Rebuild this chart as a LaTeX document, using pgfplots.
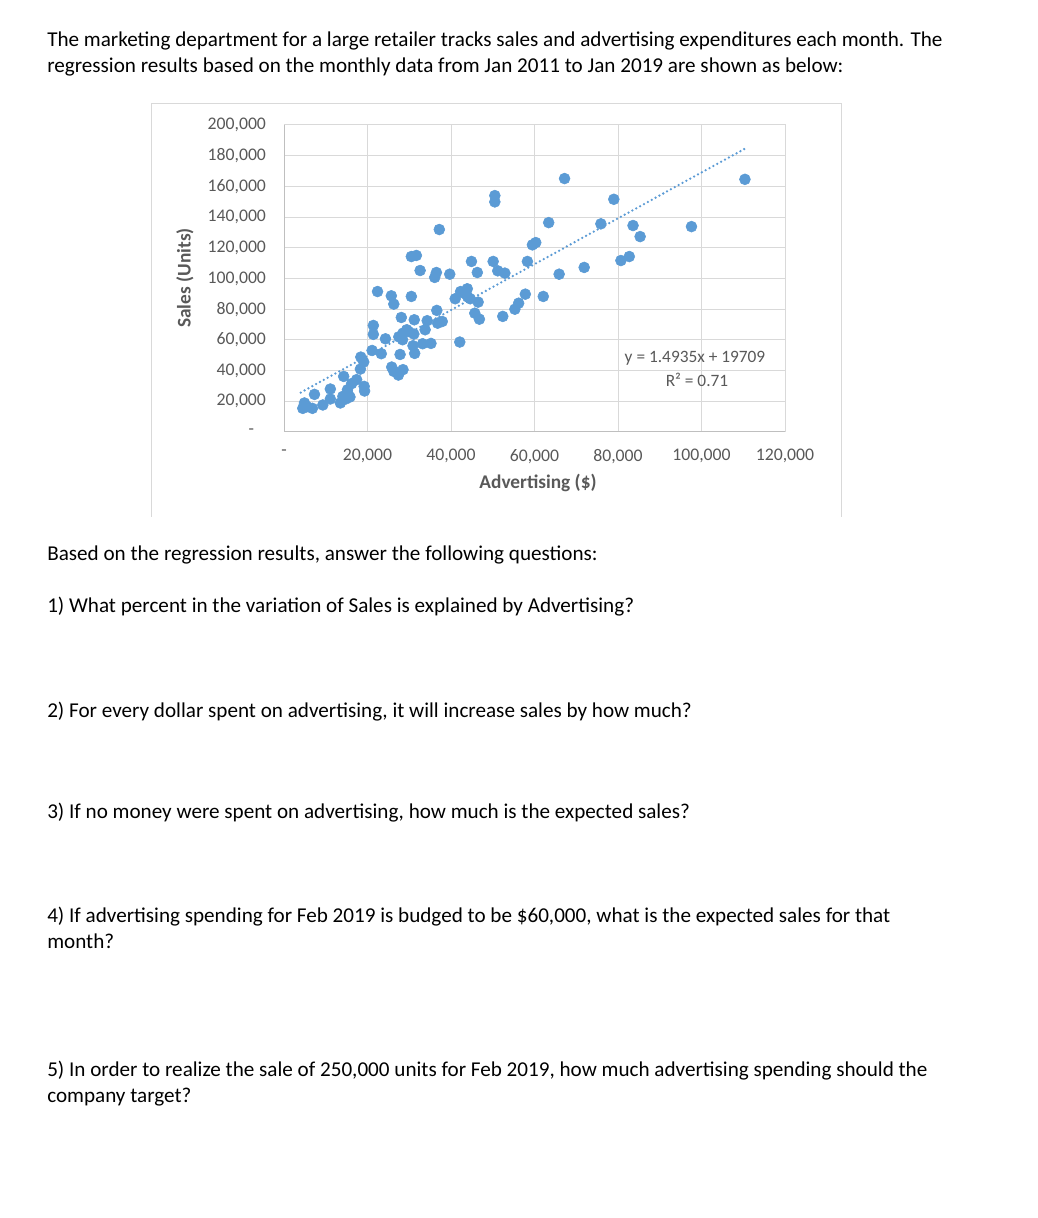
\documentclass[border=0pt]{standalone}
\usepackage{pgfplots}
\pgfplotsset{compat=1.18}
\usepackage{fontspec}
\setmainfont{Carlito}
\definecolor{dot}{HTML}{5B9BD5}
\definecolor{gridc}{HTML}{D9D9D9}
\definecolor{axc}{HTML}{BFBFBF}
\definecolor{lab}{HTML}{595959}
\begin{document}
\begin{tikzpicture}[x=0.75pt,y=0.75pt]
\fill[white] (0,0) rectangle (1038,1218);
\draw[gridc, line width=0.75pt] (151,701) -- (151,1114) -- (841,1114) -- (841,701);
\begin{axis}[at={(213pt,589.5pt)}, anchor=south west, scale only axis,
  width=375.75pt, height=230.25pt,
  xmin=0, xmax=120000, ymin=0, ymax=200000,
  xtick={0,20000,40000,60000,80000,100000,120000},
  ytick={0,20000,40000,60000,80000,100000,120000,140000,160000,180000,200000},
  xticklabels={{-},{20,000},{40,000},{60,000},{80,000},{100,000},{120,000}},
  yticklabels={{-\hspace*{9pt}},{20,000},{40,000},{60,000},{80,000},{100,000},{120,000},{140,000},{160,000},{180,000},{200,000}},
  scaled ticks=false,
  grid=major, major grid style={gridc, line width=0.75pt},
  axis line style={draw=gridc, line width=0.75pt},
  major tick length=0pt, tick style={draw=none},
  xticklabel style={font=\fontsize{13.3}{15}\selectfont, text=lab, yshift=-9.5pt},
  yticklabel style={font=\fontsize{13.3}{15}\selectfont, text=lab, xshift=-10pt},
]
\addplot[only marks, mark=*, mark size=4.1pt, mark options={fill=dot, draw=dot}] coordinates {
(110400,164600) (67200,165100) (50500,154000) (50500,149900) (79000,151600)
(37200,131900) (63400,136400) (75900,135600) (83600,134500) (97600,133800)
(85300,127300) (59500,121900) (60300,123400) (30500,114300) (31700,115000)
(80700,111700) (82700,114300) (44900,111100) (50100,111100) (58300,111100)
(71900,107200) (32600,105200) (51200,105000) (52900,103500) (46300,103900)
(36500,103900) (36100,100700) (39700,102800) (65900,102800) (22400,91500)
(25700,88700) (26300,83300) (30500,88300) (41000,86800) (42300,91500)
(43900,93300) (44600,86800) (46500,84600) (57800,89800) (62100,88300)
(55300,80000) (56200,83900) (36600,79200) (45700,77400) (46800,73500)
(52400,75300) (28100,74600) (31200,73100) (34300,72500) (36800,70900)
(37900,72000) (21400,69400) (21400,63600) (24300,60700) (28400,60100)
(28500,64400) (29400,66600) (31100,63800) (33800,66600) (33200,57500)
(35200,57700) (42100,58600) (30900,56200) (31300,51200) (21100,53100)
(23300,51000) (27800,50500) (18400,48800) (19100,45600) (18300,41000)
(25800,42300) (26300,39500) (27400,37100) (28500,40600) (14300,36200)
(17400,34100) (16200,31500) (15200,27500) (19200,29700) (19300,26700)
(7300,24500) (11100,28000) (11100,21500) (14100,23200) (14800,21500)
(13500,18900) (9300,17600) (4900,18900) (4500,15400) (6800,15400)
(15400,24300) (27500,62000) (29800,65500) (15800,22800) (44000,88000)
(43000,90500) (5500,16500)
};
\addplot[dot, line width=1.9pt, dash pattern=on 0pt off 3.3pt, line cap=round] coordinates {(4000,25683) (110400,184591)};
\draw[axc, line width=0.75pt] (axis cs:0,200000) -- (axis cs:0,0) -- (axis cs:120000,0);
\end{axis}
\node[font=\fontsize{14.5}{16}\selectfont\bfseries, text=lab] at (538,735) {Advertising (\$)};
\node[font=\fontsize{14.5}{16}\selectfont\bfseries, text=lab, rotate=90] at (185,940) {Sales (Units)};
\node[font=\fontsize{13}{15}\selectfont, text=lab] at (695,860) {y = 1.4935x + 19709};
\node[font=\fontsize{13}{15}\selectfont, text=lab] at (697,838) {R² = 0.71};
\begin{scope}[every node/.style={anchor=base west, inner sep=0pt, font=\fontsize{15.85}{19}\selectfont}]
\node at (47,1171) {The marketing department for a large retailer tracks sales and advertising expenditures each month. The};
\node at (47,1145) {regression results based on the monthly data from Jan 2011 to Jan 2019 are shown as below:};
\node at (47,657) {Based on the regression results, answer the following questions:};
\node at (47,605) {1) What percent in the variation of Sales is explained by Advertising?};
\node at (47,500) {2) For every dollar spent on advertising, it will increase sales by how much?};
\node at (47,399) {3) If no money were spent on advertising, how much is the expected sales?};
\node at (47,295) {4) If advertising spending for Feb 2019 is budged to be \$60,000, what is the expected sales for that};
\node at (47,269) {month?};
\node at (47,141) {5) In order to realize the sale of 250,000 units for Feb 2019, how much advertising spending should the};
\node at (47,115) {company target?};
\end{scope}
\end{tikzpicture}
\end{document}
